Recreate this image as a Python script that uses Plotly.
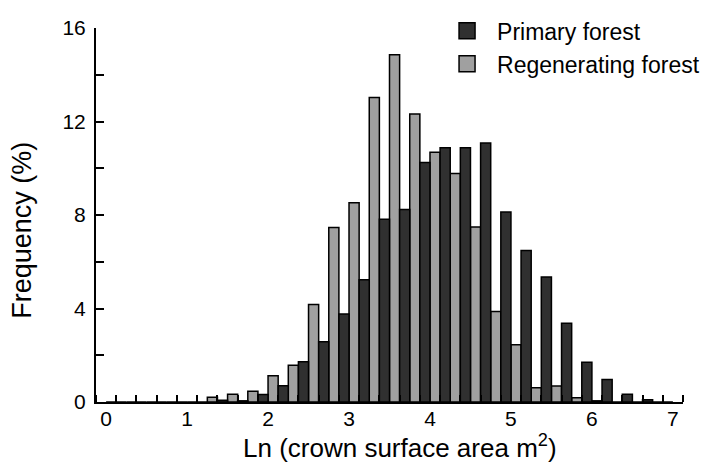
import plotly.graph_objects as go

# Bin centres of Ln(crown surface area m^2), bin width 0.25
bin_centers = [0.125, 0.375, 0.625, 0.875, 1.125, 1.375, 1.625, 1.875, 2.125, 2.375,
               2.625, 2.875, 3.125, 3.375, 3.625, 3.875, 4.125, 4.375, 4.625, 4.875,
               5.125, 5.375, 5.625, 5.875, 6.125, 6.375, 6.625, 6.875]

regenerating = [0, 0, 0, 0, 0, 0.20, 0.33, 0.46, 1.12, 1.57,
                4.17, 7.47, 8.52, 13.03, 14.86, 12.32, 10.68, 9.78, 7.49, 3.87,
                2.45, 0.61, 0.68, 0.18, 0.05, 0, 0, 0]

primary = [0, 0, 0, 0, 0, 0.08, 0.05, 0.32, 0.70, 1.72,
           2.58, 3.77, 5.23, 7.82, 8.24, 10.25, 10.88, 10.88, 11.08, 8.13,
           6.48, 5.35, 3.37, 1.70, 0.96, 0.33, 0.10, 0]

x_tick_vals = [0, 1, 2, 3, 4, 5, 6, 7]
y_tick_vals = [0, 4, 8, 12, 16]

FONT = "Liberation Sans, Arial, sans-serif"
DARK = "#303030"
LIGHT = "#a0a0a0"

fig = go.Figure()
fig.add_trace(go.Bar(x=bin_centers, y=regenerating, width=0.125, offset=-0.125,
                     marker=dict(color=LIGHT, line=dict(color="black", width=1.5)),
                     name="Regenerating forest", showlegend=False))
fig.add_trace(go.Bar(x=bin_centers, y=primary, width=0.125, offset=0,
                     marker=dict(color=DARK, line=dict(color="black", width=1.5)),
                     name="Primary forest", showlegend=False))
# legend entries
fig.add_trace(go.Scatter(x=[None], y=[None], mode="markers", name="Primary forest",
                         marker=dict(symbol="square", size=20, color=DARK,
                                     line=dict(color="black", width=1.5))))
fig.add_trace(go.Scatter(x=[None], y=[None], mode="markers", name="Regenerating forest",
                         marker=dict(symbol="square", size=20, color=LIGHT,
                                     line=dict(color="black", width=1.5))))

# the page adds an 8px body margin, so the figure is sized to fit the 708x469 window
fig.update_layout(
    width=700, height=461,
    margin=dict(l=88, r=25, t=20, b=66.5, autoexpand=False),
    paper_bgcolor="white", plot_bgcolor="white",
    barmode="overlay",
    font=dict(family=FONT, color="black", size=21),
    legend=dict(x=0.581, y=1.05, xanchor="left", yanchor="top",
                font=dict(family=FONT, size=23, color="black"),
                bgcolor="rgba(0,0,0,0)", itemwidth=50, tracegroupgap=0),
    showlegend=True,
    annotations=[
        dict(text="Ln (crown surface area m<sup>2</sup>)", xref="paper", yref="paper",
             x=0.518, y=-0.119, xanchor="center", yanchor="middle", showarrow=False,
             font=dict(family=FONT, size=26, color="black")),
        dict(text="Frequency (%)", xref="paper", yref="paper", textangle=-90,
             x=-0.126, y=0.458, xanchor="center", yanchor="middle", showarrow=False,
             font=dict(family=FONT, size=27, color="black")),
    ],
)
fig.update_xaxes(
    range=[-0.125, 7.125], tickmode="array", tickvals=x_tick_vals,
    ticktext=[str(v) for v in x_tick_vals], ticks="",
    showline=True, linecolor="black", linewidth=2, showgrid=False, zeroline=False,
    tickfont=dict(family=FONT, size=21), ticklabelstandoff=-3,
    minor=dict(ticks="inside", tick0=0.125, dtick=0.25, ticklen=7,
               tickwidth=1.5, tickcolor="black", showgrid=False),
)
fig.update_yaxes(
    range=[0, 16], tickmode="linear", tick0=0, dtick=4,
    ticks="inside", ticklen=8, tickwidth=1.5, tickcolor="black",
    showline=True, linecolor="black", linewidth=2, showgrid=False, zeroline=False,
    tickfont=dict(family=FONT, size=21), ticklabelstandoff=4,
    minor=dict(ticks="inside", tick0=0, dtick=2, ticklen=8,
               tickwidth=1.5, tickcolor="black", showgrid=False),
)

fig.write_html("out.html")
